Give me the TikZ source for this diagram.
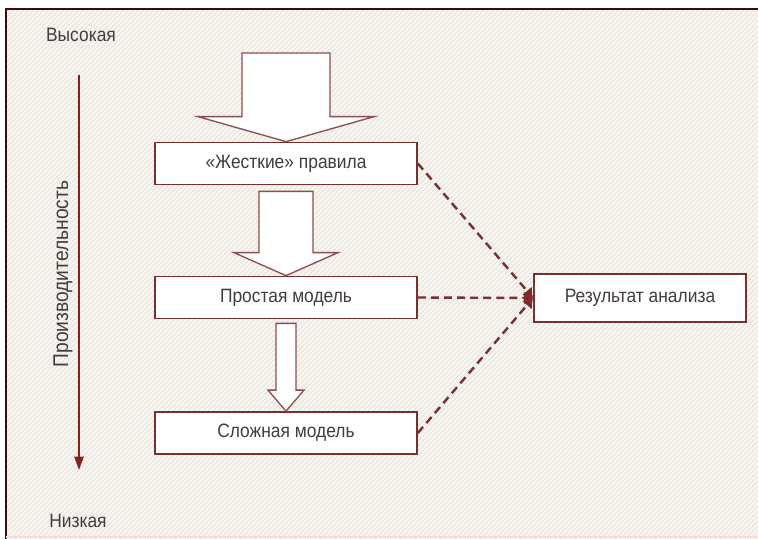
\documentclass[tikz,border=0pt]{standalone}
\usepackage{fontspec}
\setmainfont[FakeStretch=0.9]{Liberation Sans}
\usetikzlibrary{arrows.meta, positioning, calc}

\definecolor{frameDark}{HTML}{3A0E0E}
\definecolor{boxRed}{HTML}{7A2E2E}
\definecolor{axisRed}{HTML}{8A1F1F}
\definecolor{txtGray}{HTML}{443C3C}
\definecolor{paper}{HTML}{F8F6F1}
\definecolor{hatchGray}{HTML}{E6E2DB}

\tikzset{
  box/.style={draw=boxRed, line width=1.3pt, fill=white, minimum width=196.5pt,
    minimum height=31.5pt, inner sep=0pt, text=txtGray, font=\fontsize{14.5}{16}\selectfont},
  blockarr/.style={draw=boxRed!85, line width=1pt, fill=white, line join=miter},
  link/.style={draw=boxRed, line width=1.8pt, dash pattern=on 6pt off 3.8pt,
    -{Latex[length=7pt,width=10pt,fill=axisRed]}},
  lbl/.style={text=txtGray, font=\fontsize{14.5}{16}\selectfont, inner sep=0pt}
}

% block arrow: start, tip, shaft half width, head half width, head length
\newcommand{\bigarrow}[5]{%
  \draw[blockarr] ($(#1)+(-#3,0)$) -- ($(#1)+(#3,0)$) -- ($(#2)+(#3,-#5)$)
    -- ($(#2)+(#4,-#5)$) -- (#2) -- ($(#2)+(-#4,-#5)$) -- ($(#2)+(-#3,-#5)$) -- cycle;}

\begin{document}
\begin{tikzpicture}[x=0.75pt, y=-0.75pt]
\useasboundingbox (0,0) rectangle (758,539);

% Paper with hatching
\fill[paper] (6,9) rectangle (758,539);
\begin{scope}
  \clip (6,9) rectangle (758,539);
  \foreach \k in {-540,-535,...,760}
    \draw[hatchGray, line width=0.6pt] (\k,539) -- ++(530,-530);
\end{scope}
\draw[frameDark, line width=2.2pt] (6,539) -- (6,9) -- (758,9);
\draw[red!15, line width=1pt] (6,537) -- (758,537);

% Performance axis
\coordinate (hi) at (79,75);
\coordinate (lo) at (79,470);
\draw[axisRed, line width=1.2pt, -{Triangle[length=10pt,width=7pt]}] (hi) -- (lo);
\node[lbl] (high) at (81,35) {Высокая};
\node[lbl] (low) at (78,521) {Низкая};
\node[lbl, rotate=90, font=\fontsize{16}{18}\selectfont] (perf) at (63,274) {Производительность};

% Boxes
\node[box] (rules) at (286,163.5) {«Жесткие» правила};
\node[box] (simple) at (286,297.5) {Простая модель};
\node[box] (complex) at (286,433) {Сложная модель};
\node[box, minimum width=159pt, minimum height=36pt] (res) at (640,298) {Результат анализа};

% Block arrows
\coordinate (a1) at (286,53);
\coordinate (a2) at ($(rules.south)+(0,6)$);
\coordinate (a3) at ($(simple.south)+(0,4)$);
\bigarrow{a1}{rules.north}{44}{88}{25}
\bigarrow{a2}{simple.north}{27}{52}{23}
\bigarrow{a3}{complex.north}{10}{18}{21}

% Links to the result
\draw[link] (rules.east) -- (res.west);
\draw[link] (simple.east) -- (res.west);
\draw[link] (complex.east) -- (res.west);
\end{tikzpicture}
\end{document}
